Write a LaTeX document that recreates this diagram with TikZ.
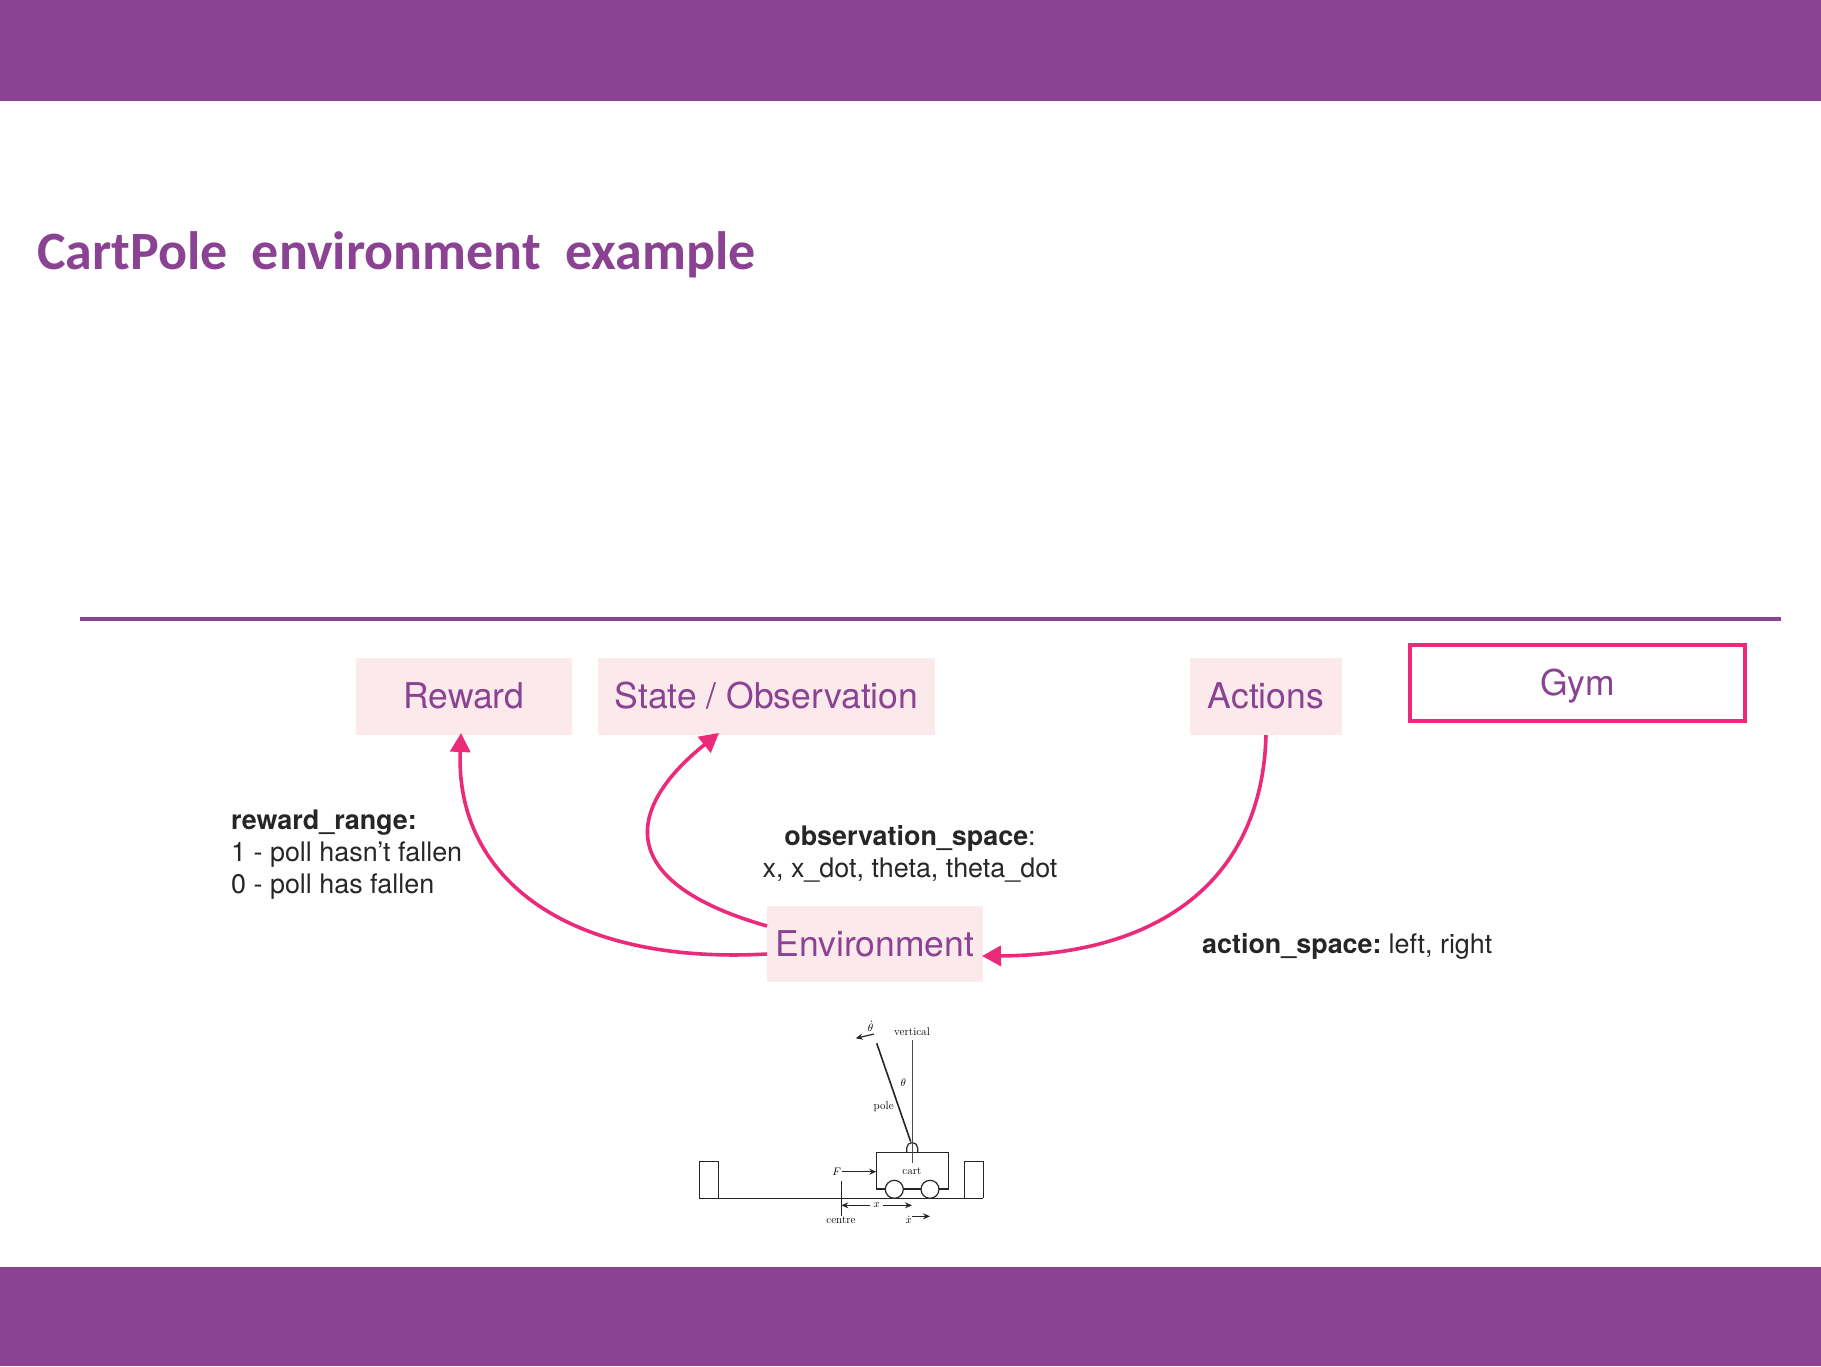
\documentclass[tikz,border=0pt]{standalone}
\usepackage{fontspec}
\usetikzlibrary{arrows.meta}
\newfontfamily\hvfont{TeX Gyre Heros}
\newfontfamily\titlefont{Carlito}
\definecolor{band}{HTML}{8B4293}
\definecolor{hot}{HTML}{EB2A7A}
\definecolor{blush}{HTML}{FBE9EC}
\definecolor{ink}{HTML}{262626}
\tikzset{
  pinkbox/.style={fill=blush,inner sep=0pt,text=band,text height=29pt,text depth=4.2pt,font=\hvfont\fontsize{35.5}{40}\selectfont},
  gymbox/.style={draw=hot,line width=3.5pt,inner sep=0pt,text=band,text height=29pt,text depth=4.2pt,font=\hvfont\fontsize{35.5}{40}\selectfont},
  flow/.style={draw=hot,line width=3.6pt,-{Triangle[length=19pt,width=20pt]}},
  note/.style={inner sep=0pt,text=ink,font=\hvfont\fontsize{26.9}{32}\selectfont},
  tiny/.style={inner sep=0pt,text=black,font=\fontsize{11.3}{12}\selectfont},
  fine/.style={draw=black!85,line width=1.2pt},
  tipped/.style={draw=black!85,line width=1.2pt,-{Stealth[length=7pt,width=6pt]}},
}
\begin{document}
\begin{tikzpicture}[x=1pt,y=-1pt]
\useasboundingbox (0,0) rectangle (1821,1366);
\fill[band] (0,0) rectangle (1821,101);
\fill[band] (0,1267) rectangle (1821,1366);
\node[anchor=base west,inner sep=0pt,text=band] (title) at (37,269)
  {\titlefont\bfseries\fontsize{54}{60}\selectfont CartPole\hspace{12pt} environment\hspace{12pt} example};
\draw[band,line width=3.5pt] (80,619) -- (1781,619);

\node[pinkbox,minimum width=216pt,minimum height=77pt] (reward) at (464,696.5) {Reward};
\node[pinkbox,minimum width=337pt,minimum height=77pt] (state) at (766.5,696.5) {State / Observation};
\node[pinkbox,minimum width=152pt,minimum height=77pt] (actions) at (1266,696.5) {Actions};
\node[pinkbox,minimum width=216pt,minimum height=76pt] (env) at (875,944) {Environment};
\node[gymbox,minimum width=335pt,minimum height=76pt] (gym) at (1577.5,683) {Gym};

\coordinate (envA) at (767,954);
\coordinate (envB) at (767,926);
\coordinate (rewardTip) at (461,733);
\coordinate (stateTip) at (719,733);
\coordinate (envTip) at (982,956);
\draw[flow] (envA) .. controls (570,965) and (455,880) .. (rewardTip);
\draw[flow] (envB) .. controls (610,881) and (628,806) .. (stateTip);
\draw[flow] (actions.south) .. controls (1262,880) and (1160,955) .. (envTip);

\node[note,anchor=west,align=left] (rewardnote) at (231,854.5)
  {\textbf{reward\_range:}\\1 - poll hasn’t fallen\\0 - poll has fallen};
\node[note,align=center] (obsnote) at (910,853.5)
  {\textbf{observation\_space}:\\x, x\_dot, theta, theta\_dot};
\node[note,anchor=west] (actnote) at (1202,946) {\textbf{action\_space:}\hspace{-3pt} left, right};

% cart-pole sketch
\draw[fine] (699.3,1198.3) -- (699.3,1161.7) -- (718.3,1161.7) -- (718.3,1198.3);
\draw[fine] (964.3,1198.3) -- (964.3,1161.7) -- (983.3,1161.7) -- (983.3,1198.3);
\draw[fine] (699.3,1198.3) -- (983.3,1198.3);
\draw[fine,fill=white] (876.3,1152.7) rectangle (948.3,1189);
\draw[fine,fill=white] (894.3,1189.3) circle (9);
\draw[fine,fill=white] (930,1189.3) circle (9);
\draw[fine] (906.7,1152.7) -- (906.7,1148) arc[start angle=180,end angle=0,x radius=5.5,y radius=-5.5] -- (917.7,1152.7);
\draw[draw=black!70,line width=0.9pt] (912,1040) -- (912,1162.7);
\draw[draw=black!85,line width=1.6pt] (876.7,1043.3) -- (910.7,1141.7);
\node[tiny] (vert) at (912,1031.7) {vertical};
\node[tiny] (thetadot) at (870.7,1026) {$\dot\theta$};
\draw[tipped] (874,1034) -- (855.7,1038.3);
\node[tiny] (theta) at (903.3,1082.7) {$\theta$};
\node[tiny] (pole) at (883.7,1106.7) {pole};
\node[tiny] (cart) at (912,1171.3) {cart};
\node[tiny] (force) at (836.7,1171.7) {$F$};
\draw[tipped] (force.east) ++(1,0) -- (876.3,1171.7);
\draw[fine] (841.3,1180.7) -- (841.3,1215.7);
\node[tiny] (xlab) at (876.7,1205.3) {$x$};
\draw[tipped] (xlab.west) ++(-3,0) -- (841.3,1205.3);
\draw[tipped] (xlab.east) ++(3,0) -- (912,1205.3);
\node[tiny] (centre) at (841,1220.3) {centre};
\node[tiny] (xdot) at (908.7,1220) {$\dot x$};
\draw[tipped] (912.3,1216.3) -- (930,1216.3);
\end{tikzpicture}
\end{document}
